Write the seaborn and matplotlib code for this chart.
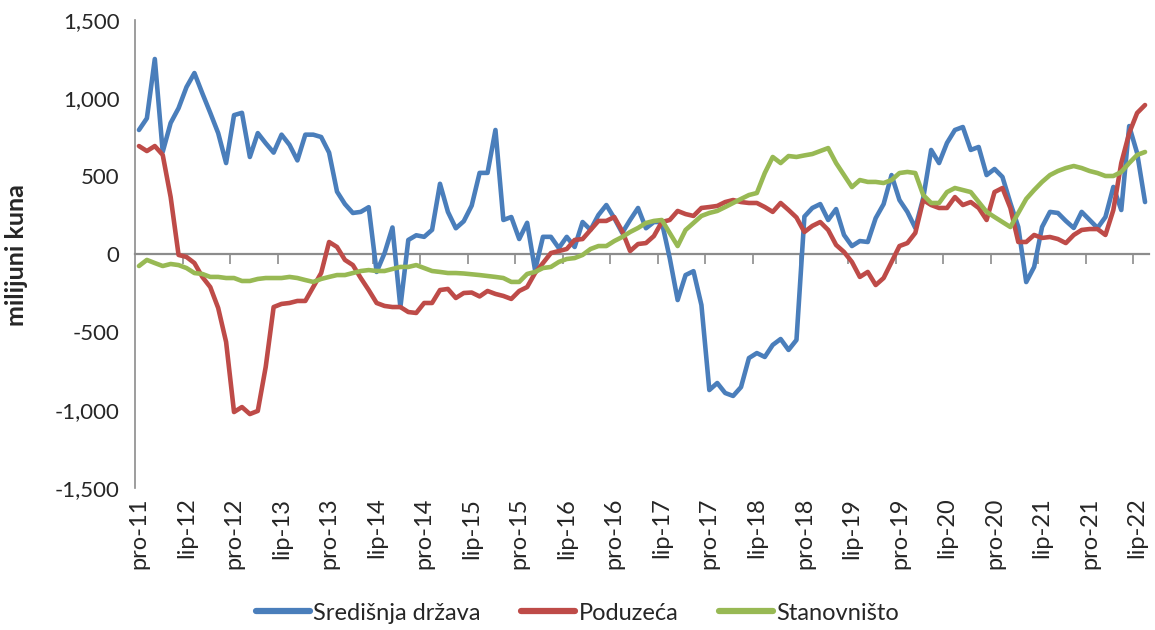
import numpy as np
import pandas as pd
import matplotlib
matplotlib.use("Agg")
import matplotlib.pyplot as plt
import seaborn as sns

# monthly values, pro-11 (Dec 2011) to srp-22 (Jul 2022), milijuni kuna
sredisnja_drzava = [
    795, 870, 1250, 655, 840, 935, 1070, 1160, 1030, 905, 775, 583,
    890, 905, 622, 775, 710, 650, 765, 700, 600, 765, 765, 750,
    650, 400, 320, 263, 270, 300, -115, 5, 170, -340, 90, 120,
    110, 155, 450, 270, 165, 210, 310, 520, 520, 795, 218, 237,
    96, 200, -103, 110, 110, 38, 110, 45, 205, 155, 250, 314,
    230, 135, 218, 295, 165, 205, 205, -26, -295, -135, -110, -327,
    -872, -827, -891, -910, -853, -667, -635, -660, -583, -545, -615, -551,
    240, 295, 320, 218, 288, 122, 51, 83, 77, 230, 320, 506,
    346, 270, 167, 359, 667, 583, 712, 795, 814, 667, 686, 506,
    545, 494, 327, 173, -180, -83, 173, 270, 263, 212, 167, 270,
    218, 167, 237, 430, 282, 820, 647, 333,
]
poduzeca = [
    692, 660, 692, 635, 365, -6, -19, -58, -147, -212, -346, -564,
    -1013, -981, -1026, -1006, -724, -340, -320, -314, -301, -301, -212, -122,
    77, 45, -38, -71, -154, -231, -314, -333, -340, -340, -372, -378,
    -314, -314, -231, -224, -282, -250, -247, -272, -237, -256, -269, -288,
    -237, -212, -122, -58, 6, 19, 32, 90, 96, 154, 212, 212,
    237, 147, 19, 64, 70, 115, 205, 218, 276, 256, 244, 295,
    301, 308, 333, 346, 333, 327, 327, 301, 270, 327, 282, 234,
    141, 180, 205, 154, 58, 13, -51, -147, -115, -199, -154, -51,
    51, 70, 135, 346, 314, 295, 295, 365, 314, 333, 295, 218,
    397, 423, 295, 77, 77, 122, 103, 109, 96, 70, 122, 154,
    160, 160, 122, 282, 583, 775, 904, 955,
]
stanovnistvo = [
    -77, -38, -58, -77, -64, -71, -90, -122, -128, -147, -147, -154,
    -154, -173, -173, -160, -154, -154, -154, -147, -154, -167, -179, -160,
    -147, -135, -135, -122, -109, -103, -109, -109, -96, -83, -83, -71,
    -90, -109, -115, -122, -122, -125, -130, -135, -141, -147, -154, -179,
    -179, -128, -115, -90, -83, -51, -32, -26, -6, 32, 51, 51,
    83, 109, 141, 167, 199, 212, 218, 135, 51, 154, 199, 244,
    263, 276, 301, 327, 353, 378, 391, 519, 622, 583, 628, 622,
    632, 641, 660, 679, 583, 506, 429, 474, 462, 462, 455, 474,
    519, 526, 519, 378, 327, 327, 397, 423, 410, 397, 333, 270,
    237, 205, 173, 263, 353, 410, 462, 506, 532, 551, 564, 551,
    532, 519, 500, 500, 526, 583, 635, 654,
]

tick_labels = ["pro-11", "lip-12", "pro-12", "lip-13", "pro-13", "lip-14",
               "pro-14", "lip-15", "pro-15", "lip-16", "pro-16", "lip-17",
               "pro-17", "lip-18", "pro-18", "lip-19", "pro-19", "lip-20",
               "pro-20", "lip-21", "pro-21", "lip-22"]

series_names = ["Središnja država", "Poduzeća", "Stanovništo"]
colors = ["#4A7EBB", "#BE4B48", "#98B954"]

n = len(sredisnja_drzava)
month_idx = np.arange(n)

df = pd.DataFrame({
    "mjesec": np.tile(month_idx, 3),
    "vrijednost": sredisnja_drzava + poduzeca + stanovnistvo,
    "sektor": np.repeat(series_names, n),
})

sns.set_style("white")
plt.rcParams["font.family"] = ["Lato", "DejaVu Sans"]

fig = plt.figure(figsize=(11.55, 6.3), dpi=100)
ax = fig.add_axes([135 / 1155, 1 - 488 / 630, 1014 / 1155, 468 / 630])

sns.lineplot(data=df, x="mjesec", y="vrijednost", hue="sektor",
             palette=colors, linewidth=3.3, ax=ax, legend=False)

ax.set_xlim(-0.5, n - 0.5)
ax.set_ylim(-1500, 1500)
ax.set_yticks(np.arange(-1500, 1501, 500))
ax.set_yticklabels([f"{v:,}" for v in range(-1500, 1501, 500)], fontsize=16)
ax.set_xticks(np.arange(0, n, 6)[:len(tick_labels)])
ax.set_xticklabels(tick_labels, rotation=90, fontsize=17)
ax.tick_params(axis="x", length=0, pad=7)
ax.tick_params(axis="y", length=5, width=1, color="#8c8c8c", direction="out", pad=6)
ax.set_xlabel("")
ax.set_ylabel("")

for side in ["top", "right", "bottom"]:
    ax.spines[side].set_visible(False)
ax.spines["left"].set_color("#8c8c8c")
ax.spines["left"].set_linewidth(1.2)

# zero axis with tick marks between the half-year groups
zero_axis = ax.secondary_xaxis(0, transform=ax.transData)
zero_axis.set_xticks(np.arange(5.5, n - 1, 6))
zero_axis.set_xticklabels([])
zero_axis.tick_params(length=7, width=1.2, color="#8c8c8c", direction="out")
zero_axis.spines["bottom"].set_color("#8c8c8c")
zero_axis.spines["bottom"].set_linewidth(1.6)

fig.text(17 / 1155, 1 - 255 / 630, "milijuni kuna", rotation=90,
         ha="center", va="center", fontsize=18, fontweight="bold")

handles = [plt.Line2D([], [], color=c, linewidth=4.5, solid_capstyle="round") for c in colors]
fig.legend(handles, series_names, loc="center", bbox_to_anchor=(0.5, 1 - 613 / 630),
           ncol=3, frameon=False, fontsize=17, handlelength=2.3,
           handletextpad=0.15, columnspacing=1.7)

fig.savefig("out.png", dpi=100)
